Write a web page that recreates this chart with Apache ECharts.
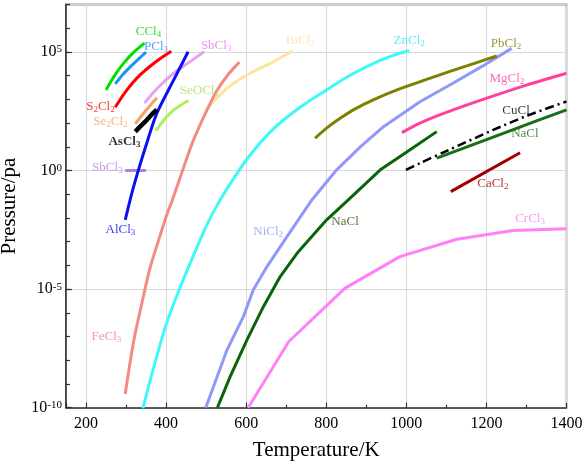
<!DOCTYPE html>
<html><head><meta charset="utf-8">
<script src="https://cdn.jsdelivr.net/npm/echarts@6/dist/echarts.min.js"></script>
<style>html,body{margin:0;padding:0;background:#fff}#c{width:588px;height:464px}</style>
</head><body><div id="c"></div>
<script>
// Temperature (K) and log10(Pressure / Pa)
const CCl4_T = [250, 272, 294, 320, 346];
const CCl4_lgP = [3.40, 4.02, 4.53, 5.00, 5.37];
const PCl3_T = [273, 292, 311, 331, 350];
const PCl3_lgP = [3.65, 4.05, 4.38, 4.70, 4.99];
const S2Cl2_T = [273, 300, 335, 377, 413];
const S2Cl2_lgP = [2.67, 3.35, 4.03, 4.62, 5.03];
const AlCl3_T = [298, 314, 331, 354, 377, 419, 455];
const AlCl3_lgP = [-2.08, -0.98, 0.03, 1.28, 2.42, 3.82, 5.01];
const SbCl3_T = [346, 380, 419, 458, 495];
const SbCl3_lgP = [2.84, 3.50, 4.10, 4.57, 5.01];
const SbCl3b_T = [298, 350];
const SbCl3b_lgP = [0, 0];
const Se2Cl2_T = [323, 350, 377];
const Se2Cl2_lgP = [1.97, 2.54, 3.07];
const AsCl3_T = [323, 335, 350, 365, 377];
const AsCl3_lgP = [1.64, 1.85, 2.10, 2.38, 2.56];
const SeOCl2_T = [375, 392, 410, 433, 456];
const SeOCl2_lgP = [1.68, 2.08, 2.42, 2.72, 2.95];
const BiCl3_T = [500, 555, 610, 660, 716];
const BiCl3_lgP = [2.56, 3.51, 4.10, 4.52, 5.04];
const FeCl3_T = [298, 319, 344, 360, 381, 402, 415, 440, 468, 498, 527, 555, 583];
const FeCl3_lgP = [-9.42, -7.2, -5.25, -4.1, -2.95, -1.85, -1.27, -0.05, 1.27, 2.4, 3.37, 4.05, 4.57];
const ZnCl2_T = [342, 369, 400, 435, 485, 510, 535, 570, 605, 650, 693, 750, 801, 850, 901, 955, 1007];
const ZnCl2_lgP = [-10.03, -8.3, -6.5, -4.93, -2.92, -2.01, -1.24, -0.3, 0.55, 1.45, 2.13, 2.85, 3.40, 3.92, 4.38, 4.78, 5.06];
const NiCl2_T = [499, 552, 593, 618, 652, 702, 764, 826, 885, 943, 1034, 1113, 1190, 1263];
const NiCl2_lgP = [-10, -7.57, -6.16, -5.03, -4.05, -2.79, -1.24, 0.03, 1.0, 1.85, 2.9, 3.65, 4.4, 5.15];
const PbCl2_T = [772, 800, 830, 870, 920, 980, 1040, 1109, 1170, 1226];
const PbCl2_lgP = [1.36, 1.78, 2.15, 2.58, 3.0, 3.42, 3.78, 4.18, 4.52, 4.83];
const MgCl2_T = [989, 1034, 1100, 1201, 1300, 1400];
const MgCl2_lgP = [1.6, 2.0, 2.45, 3.05, 3.6, 4.10];
const CuCl_T = [999, 1034, 1100, 1217, 1300, 1400];
const CuCl_lgP = [0.03, 0.31, 0.82, 1.71, 2.3, 2.91];
const NaClHi_T = [1076, 1160, 1242, 1320, 1400];
const NaClHi_lgP = [0.52, 1.05, 1.57, 2.06, 2.56];
const NaCl_T = [528, 560, 602, 643, 685, 727, 801, 855, 935, 1001, 1076];
const NaCl_lgP = [-10, -8.69, -7.14, -5.74, -4.47, -3.49, -2.08, -1.24, 0.03, 0.78, 1.64];
const CaCl2_T = [1111, 1284];
const CaCl2_lgP = [-0.89, 0.75];
const CrCl3_T = [605, 706, 847, 984, 1126, 1267, 1400];
const CrCl3_lgP = [-10.0, -7.22, -4.96, -3.63, -2.90, -2.53, -2.46];

const xTickLabels = [200, 400, 600, 800, 1000, 1200, 1400];
const yTickExponents = [-10, -5, 0, 5];

// label texts (formula parts, odd parts are subscripts) and their anchor (T, log10 P)
const labelText = [
  ['CCl','4'], ['PCl','3'], ['SbCl','3'], ['S','2','Cl','2'], ['Se','2','Cl','2'], ['AsCl','3'],
  ['SeOCl','2'], ['SbCl','3'], ['AlCl','3'], ['FeCl','3'], ['BiCl','3'], ['ZnCl','2'],
  ['PbCl','2'], ['MgCl','2'], ['CuCl'], ['NaCl'], ['CaCl','2'], ['CrCl','3'], ['NiCl','2'], ['NaCl']
];
const labelT = [356, 375, 525, 236, 261, 296, 483, 253, 286, 251, 735, 1007, 1249, 1251, 1274, 1296, 1216, 1309, 655, 847];
const labelLgP = [5.84, 5.21, 5.25, 2.68, 2.05, 1.21, 3.36, 0.11, -2.5, -7.01, 5.47, 5.47, 5.34, 3.86, 2.51, 1.54, -0.57, -2.04, -2.59, -2.17];

// styles
const labelColors = ['#00d000','#1e90f0','#e07ee8','#ff0000','#f0a060','#000000',
  '#a8e060','#c080e8','#0000ff','#f08080','#ffe0a0','#30e8f0',
  '#808000','#ff40a0','#000000','#1f6a1f','#a00000','#ff80f0','#9098f8','#304a00'];
const labelBold = [false,false,false,false,false,true,false,false,false,false,false,false,false,false,false,false,false,false,false,false];

const lines = [
  ['CCl4', CCl4_T, CCl4_lgP, '#00e000', 3, 'solid', true],
  ['PCl3', PCl3_T, PCl3_lgP, '#1e96f0', 3, 'solid', true],
  ['S2Cl2', S2Cl2_T, S2Cl2_lgP, '#ff0000', 3, 'solid', true],
  ['SbCl3', SbCl3_T, SbCl3_lgP, '#e8a0f0', 3, 'solid', true],
  ['SbCl3b', SbCl3b_T, SbCl3b_lgP, '#b080e0', 3, 'solid', false],
  ['Se2Cl2', Se2Cl2_T, Se2Cl2_lgP, '#f4a460', 3, 'solid', true],
  ['SeOCl2', SeOCl2_T, SeOCl2_lgP, '#b0f060', 3, 'solid', true],
  ['BiCl3', BiCl3_T, BiCl3_lgP, '#ffe4a0', 3, 'solid', true],
  ['FeCl3', FeCl3_T, FeCl3_lgP, '#f38b85', 3, 'solid', true],
  ['ZnCl2', ZnCl2_T, ZnCl2_lgP, '#40f8f8', 3, 'solid', true],
  ['AlCl3', AlCl3_T, AlCl3_lgP, '#0a10f0', 3, 'solid', true],
  ['AsCl3', AsCl3_T, AsCl3_lgP, '#000000', 4.5, 'solid', true],
  ['NiCl2', NiCl2_T, NiCl2_lgP, '#9098f8', 3, 'solid', false],
  ['PbCl2', PbCl2_T, PbCl2_lgP, '#808000', 3, 'solid', true],
  ['MgCl2', MgCl2_T, MgCl2_lgP, '#ff40a0', 3, 'solid', true],
  ['CuCl', CuCl_T, CuCl_lgP, '#000000', 2.5, [9, 4, 2, 4], true],
  ['NaClHi', NaClHi_T, NaClHi_lgP, '#1a6e1a', 3, 'solid', false],
  ['NaCl', NaCl_T, NaCl_lgP, '#0a640a', 3, 'solid', false],
  ['CaCl2', CaCl2_T, CaCl2_lgP, '#a00000', 3, 'solid', false],
  ['CrCl3', CrCl3_T, CrCl3_lgP, '#ff80f8', 3, 'solid', false]
];

const FONT = 'Liberation Serif';
const series = lines.map(([name, T, lg, color, w, type, smooth]) => ({
  name, type: 'line', symbol: 'none', smooth: smooth ? 0.3 : false,
  lineStyle: { color, width: w, type },
  data: T.map((t, i) => [t, Math.pow(10, lg[i])]),
  z: 3
}));

series.push({
  name: 'labels', type: 'scatter', symbolSize: 0, z: 5, silent: true,
  data: labelText.map((p, i) => ({
    value: [labelT[i], Math.pow(10, labelLgP[i])],
    label: {
      show: true, position: 'inside', color: labelColors[i],
      formatter: p.map((s, k) => (k % 2 === 0 ? '{n|' + s + '}' : '{s|' + s + '}')).join(''),
      rich: {
        n: { fontFamily: FONT, fontSize: 13, lineHeight: 14, color: labelColors[i], fontWeight: labelBold[i] ? 'bold' : 'normal' },
        s: { fontFamily: FONT, fontSize: 9, lineHeight: 6, verticalAlign: 'bottom', color: labelColors[i], fontWeight: labelBold[i] ? 'bold' : 'normal' }
      }
    }
  }))
});

const chart = echarts.init(document.getElementById('c'), null, { renderer: 'canvas' });
chart.setOption({
  animation: false,
  backgroundColor: '#fff',
  grid: { left: 66, right: 21.5, top: 4.5, bottom: 56.3, show: true, borderColor: '#111', borderWidth: 1.3,
          containLabel: false, outerBoundsMode: 'none' },
  xAxis: {
    type: 'value', min: 150, max: 1400, splitNumber: 6,
    name: 'Temperature/K', nameLocation: 'middle', nameGap: 32,
    nameTextStyle: { fontFamily: FONT, fontSize: 21, color: '#000' },
    axisLine: { lineStyle: { color: '#333', width: 1.5 } },
    axisTick: { inside: true, length: 5, lineStyle: { color: '#333', width: 1.2 } },
    minorTick: { show: true, splitNumber: 2, length: 3, lineStyle: { color: '#333', width: 1.2 } },
    splitLine: { show: true, lineStyle: { color: '#d8d8d8', width: 1 } },
    axisLabel: { fontFamily: FONT, fontSize: 16, color: '#000', margin: 8,
      formatter: v => (xTickLabels.indexOf(v) >= 0 ? String(v) : '') }
  },
  yAxis: [{
    type: 'log', logBase: 10, min: 1e-10, max: 1e7, interval: 5,
    name: 'Pressure/pa', nameLocation: 'middle', nameGap: 44,
    nameTextStyle: { fontFamily: FONT, fontSize: 21, color: '#000' },
    axisLine: { show: true, lineStyle: { color: '#333', width: 1.5 } },
    axisTick: { inside: true, length: 6, lineStyle: { color: '#333', width: 1.2 } },
    splitLine: { show: true, lineStyle: { color: '#d8d8d8', width: 1 } },
    axisLabel: {
      margin: 4, showMaxLabel: false,
      formatter: v => {
        const e = Math.round(Math.log10(v));
        return yTickExponents.indexOf(e) >= 0 ? '{b|10}{e|' + e + '}' : '';
      },
      rich: {
        b: { fontFamily: FONT, fontSize: 16, lineHeight: 16, color: '#000' },
        e: { fontFamily: FONT, fontSize: 11, lineHeight: 7, verticalAlign: 'top', color: '#000' }
      }
    }
  }, {
    type: 'log', logBase: 10, min: 1e-10, max: 1e7, interval: 1, position: 'left',
    axisLine: { show: false }, splitLine: { show: false }, axisLabel: { show: false },
    axisTick: { inside: true, length: 4, lineStyle: { color: '#333', width: 1.2 } }
  }],
  series
});
</script></body></html>
